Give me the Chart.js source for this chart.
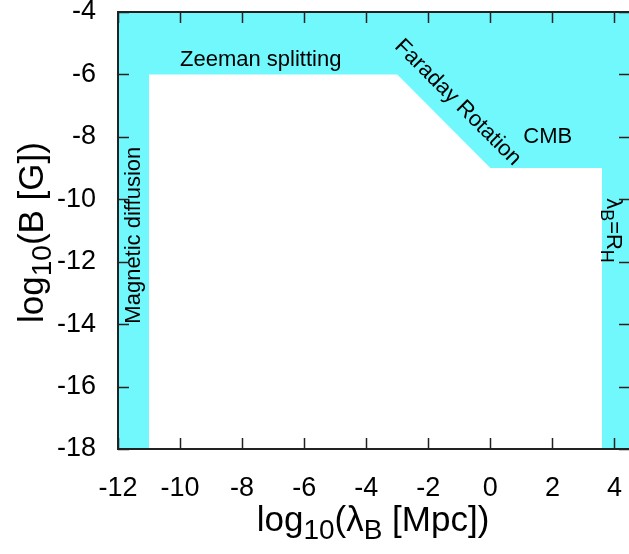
<!DOCTYPE html>
<html lang="en">
  <head>
    <meta charset="UTF-8" />
    <title>Magnetic field constraints</title>
    <script src="https://cdn.jsdelivr.net/npm/chart.js"></script>
    <style>
      html, body {
        margin: 0;
        padding: 0;
        overflow: hidden;
        background: #fff;
      }
      #bChart {
        display: block;
      }
    </style>
  </head>

  <body>
    <canvas id="bChart" width="640" height="554"></canvas>

    <script>
      // axis ranges and ticks
      const xRange = [-12, 4.5];
      const yRange = [-18, -4];
      const xTicks = [-12, -10, -8, -6, -4, -2, 0, 2, 4];
      const yTicks = [-18, -16, -14, -12, -10, -8, -6, -4];

      // edge of the allowed (white) region, everything else is excluded
      const boundX = [-11, -11, -3, 0, 3.6, 3.6];
      const boundY = [-18, -6, -6, -9, -9, -18];

      // region labels (data coords)
      const labelText = [
        [{ t: "Zeeman splitting" }],
        [{ t: "Faraday Rotation" }],
        [{ t: "CMB" }],
        [{ t: "Magnetic diffusion" }],
        [{ t: "λ" }, { t: "B", sub: true }, { t: "=R" }, { t: "H", sub: true }],
      ];
      const labelX = [-7.4, -1.05, 1.85, -11.48, 3.95];
      const labelY = [-5.54, -6.9, -8.0, -11.15, -11.0];
      const labelAngle = [0, 45, 0, -90, 90];

      const cyan = "rgb(112, 248, 252)";
      const FONT = "'Liberation Sans', Arial, Helvetica, sans-serif";

      function drawRich(ctx, segs, x, y, angle, size) {
        const subSize = Math.round(size * 0.8);
        let total = 0;
        const widths = segs.map((s) => {
          ctx.font = (s.sub ? subSize : size) + "px " + FONT;
          const w = ctx.measureText(s.t).width;
          total += w;
          return w;
        });
        ctx.save();
        ctx.translate(x, y);
        ctx.rotate((angle * Math.PI) / 180);
        ctx.fillStyle = "#000";
        ctx.textBaseline = "middle";
        ctx.textAlign = "left";
        let cx = -total / 2;
        segs.forEach((s, i) => {
          ctx.font = (s.sub ? subSize : size) + "px " + FONT;
          ctx.fillText(s.t, cx, s.sub ? size * 0.3 : 0);
          cx += widths[i];
        });
        ctx.restore();
      }

      const decor = {
        id: "decor",
        afterDatasetsDraw(chart) {
          const { ctx, chartArea: a, scales } = chart;
          const xs = scales.x;
          const ys = scales.y;

          // labels inside the plot
          labelText.forEach((segs, i) => {
            drawRich(ctx, segs, xs.getPixelForValue(labelX[i]), ys.getPixelForValue(labelY[i]), labelAngle[i], 22);
          });

          // inward ticks on all four sides + frame
          ctx.save();
          ctx.strokeStyle = "#222";
          ctx.lineWidth = 1.5;
          ctx.beginPath();
          xTicks.forEach((v) => {
            const px = Math.round(xs.getPixelForValue(v)) + 0.5;
            ctx.moveTo(px, a.bottom);
            ctx.lineTo(px, a.bottom - 11);
            ctx.moveTo(px, a.top);
            ctx.lineTo(px, a.top + 11);
          });
          yTicks.forEach((v) => {
            const py = Math.round(ys.getPixelForValue(v)) + 0.5;
            ctx.moveTo(a.left, py);
            ctx.lineTo(a.left + 11, py);
            ctx.moveTo(a.right, py);
            ctx.lineTo(a.right - 11, py);
          });
          ctx.stroke();
          ctx.lineWidth = 2;
          ctx.strokeRect(a.left, a.top, a.right - a.left, a.bottom - a.top);
          ctx.restore();

          // axis titles
          drawRich(ctx, [{ t: "log" }, { t: "10", sub: true }, { t: "(λ" }, { t: "B", sub: true }, { t: " [Mpc])" }],
            373, 521, 0, 35);
          drawRich(ctx, [{ t: "log" }, { t: "10", sub: true }, { t: "(B [G])" }],
            33, (a.top + a.bottom) / 2 + 2, -90, 35);
        },
      };

      const ctx = document.getElementById("bChart").getContext("2d");
      const bChart = new Chart(ctx, {
        type: "line",
        data: {
          datasets: [
            {
              label: "allowed",
              data: boundX.map((x, i) => ({ x: x, y: boundY[i] })),
              fill: "start",
              backgroundColor: "#fff",
              borderColor: "#fff",
              borderWidth: 0,
              pointRadius: 0,
              tension: 0,
            },
            {
              label: "excluded",
              data: [
                { x: xRange[0], y: yRange[1] },
                { x: xRange[1], y: yRange[1] },
              ],
              fill: "start",
              backgroundColor: cyan,
              borderWidth: 0,
              pointRadius: 0,
            },
          ],
        },
        options: {
          responsive: false,
          animation: false,
          devicePixelRatio: 1,
          layout: { padding: { top: 12, right: 10, left: 0, bottom: 0 } },
          plugins: {
            legend: { display: false },
            tooltip: { enabled: false },
          },
          scales: {
            x: {
              type: "linear",
              min: xRange[0],
              max: xRange[1],
              grid: { display: false, drawTicks: false },
              border: { display: false },
              afterBuildTicks: (s) => {
                s.ticks = xTicks.map((v) => ({ value: v }));
              },
              afterFit: (s) => {
                s.height = 105;
                s.paddingLeft = 0;
                s.paddingRight = 0;
              },
              ticks: {
                padding: 23,
                color: "#000",
                maxRotation: 0,
                font: { family: FONT, size: 27 },
              },
            },
            y: {
              type: "linear",
              min: yRange[0],
              max: yRange[1],
              grid: { display: false, drawTicks: false },
              border: { display: false },
              afterBuildTicks: (s) => {
                s.ticks = yTicks.map((v) => ({ value: v }));
              },
              afterFit: (s) => {
                s.width = 118;
                s.paddingTop = 0;
                s.paddingBottom = 0;
              },
              ticks: {
                padding: 22,
                color: "#000",
                font: { family: FONT, size: 27 },
              },
            },
          },
        },
        plugins: [decor],
      });
    </script>
  </body>
</html>
